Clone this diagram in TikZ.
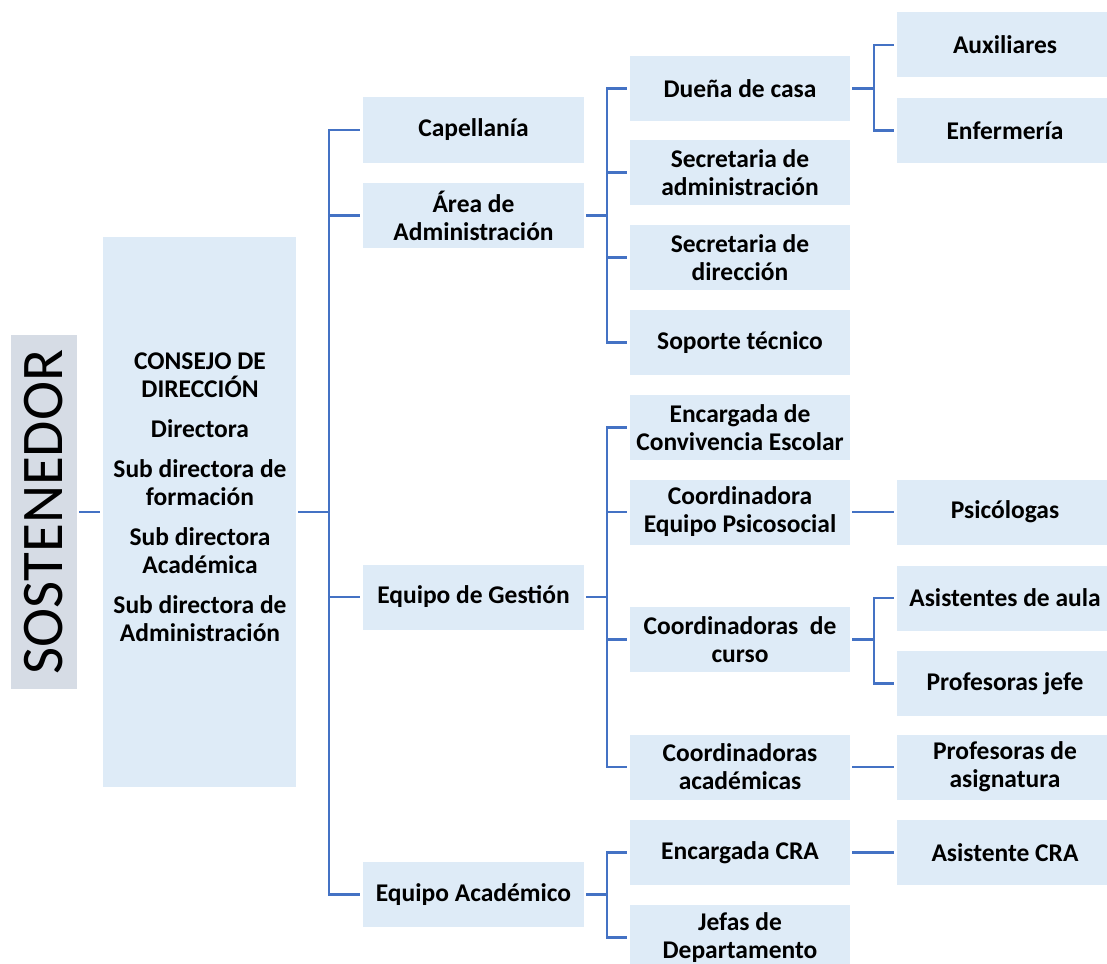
\documentclass[tikz,border=0pt]{standalone}
\usepackage{fontspec}
\usepackage{graphicx}
\setmainfont{Carlito}
\definecolor{boxblue}{HTML}{DEEBF7}
\definecolor{sostgray}{HTML}{D6DCE5}
\definecolor{linkblue}{HTML}{4472C4}
\tikzset{
  box/.style={fill=boxblue, inner sep=0pt, minimum height=65pt, align=center,
    font=\fontsize{25.5}{28}\selectfont\bfseries},
  lvltwo/.style={box, minimum width=221pt},
  lvlthree/.style={box, minimum width=220pt},
  lvlfour/.style={box, minimum width=216pt},
  link/.style={draw=linkblue, line width=2.4pt, shorten <=2pt, shorten >=3pt},
}
\begin{document}
\begin{tikzpicture}[x=1pt, y=-1pt]
          \useasboundingbox (0,0) rectangle (1107,963);

          % left side
          \node[fill=sostgray, minimum width=66pt, minimum height=354pt, inner sep=0pt] (sost) at (44,512)
          {\rotatebox{90}{\fontsize{59}{59}\selectfont SOSTENEDOR}};
          \node[fill=boxblue, minimum width=193pt, minimum height=550pt, inner sep=0pt] (consejo) at (199.5,512) {};
          \node[align=center, font=\fontsize{25.5}{28}\selectfont\bfseries] (consejotxt) at (200,497)
          {CONSEJO DE\\ DIRECCIÓN\\[12pt] Directora\\[12pt] Sub directora de\\ formación\\[12pt]
           Sub directora\\ Académica\\[12pt] Sub directora de\\ Administración};

          % second level
          \node[lvltwo] (capellania) at (473.5,130) {Capellanía};
          \node[lvltwo] (admin) at (473.5,215.5) {Área de\\ Administración};
          \node[lvltwo] (gestion) at (473.5,597) {Equipo de Gestión};
          \node[lvltwo] (academico) at (473.5,894.5) {Equipo Académico};

          % third level
          \node[lvlthree] (duena) at (740,88.5) {Dueña de casa};
          \node[lvlthree] (secadmin) at (740,172.5) {Secretaria de\\ administración};
          \node[lvlthree] (secdir) at (740,257.5) {Secretaria de\\ dirección};
          \node[lvlthree] (soporte) at (740,342.5) {Soporte técnico};
          \node[lvlthree] (convivencia) at (740,427.5) {Encargada de\\ Convivencia Escolar};
          \node[lvlthree] (psicosocial) at (740,512) {Coordinadora\\ Equipo Psicosocial};
          \node[lvlthree] (coorcurso) at (740,639.5) {Coordinadoras\ \ de\\ curso};
          \node[lvlthree] (cooracad) at (740,767) {Coordinadoras\\ académicas};
          \node[lvlthree] (cra) at (740,852.5) {Encargada CRA};
          \node[lvlthree] (jefas) at (740,937.5) {Jefas de\\ Departamento};

          % fourth level
          \node[lvlfour] (aux) at (1005,45) {Auxiliares};
          \node[lvlfour] (enfermeria) at (1005,130.5) {Enfermería};
          \node[lvlfour] (psicologas) at (1005,512) {Psicólogas};
          \node[lvlfour] (asistaula) at (1005,598) {Asistentes de aula};
          \node[lvlfour] (profjefe) at (1005,683.5) {Profesoras jefe};
          \node[lvlfour] (profasig) at (1005,767) {Profesoras de\\ asignatura};
          \node[lvlfour] (asiscra) at (1005,852.5) {Asistente CRA};

          % connectors
          \draw[link] (sost.east) -- (consejo.west);
          \draw[link] (consejo.east) -- ++(33,0) |- (capellania.west);
          \draw[link] (consejo.east) -- ++(33,0) |- (admin.west);
          \draw[link] (consejo.east) -- ++(33,0) |- (gestion.west);
          \draw[link] (consejo.east) -- ++(33,0) |- (academico.west);

          \draw[link] (admin.east) -- ++(23,0) |- (duena.west);
          \draw[link] (admin.east) -- ++(23,0) |- (secadmin.west);
          \draw[link] (admin.east) -- ++(23,0) |- (secdir.west);
          \draw[link] (admin.east) -- ++(23,0) |- (soporte.west);

          \draw[link] (gestion.east) -- ++(23,0) |- (convivencia.west);
          \draw[link] (gestion.east) -- ++(23,0) |- (psicosocial.west);
          \draw[link] (gestion.east) -- ++(23,0) |- (coorcurso.west);
          \draw[link] (gestion.east) -- ++(23,0) |- (cooracad.west);

          \draw[link] (academico.east) -- ++(23,0) |- (cra.west);
          \draw[link] (academico.east) -- ++(23,0) |- (jefas.west);

          \draw[link] (duena.east) -- ++(24,0) |- (aux.west);
          \draw[link] (duena.east) -- ++(24,0) |- (enfermeria.west);
          \draw[link] (psicosocial.east) -- (psicologas.west);
          \draw[link] (coorcurso.east) -- ++(24,0) |- (asistaula.west);
          \draw[link] (coorcurso.east) -- ++(24,0) |- (profjefe.west);
          \draw[link] (cooracad.east) -- (profasig.west);
          \draw[link] (cra.east) -- (asiscra.west);

        \end{tikzpicture}
\end{document}
